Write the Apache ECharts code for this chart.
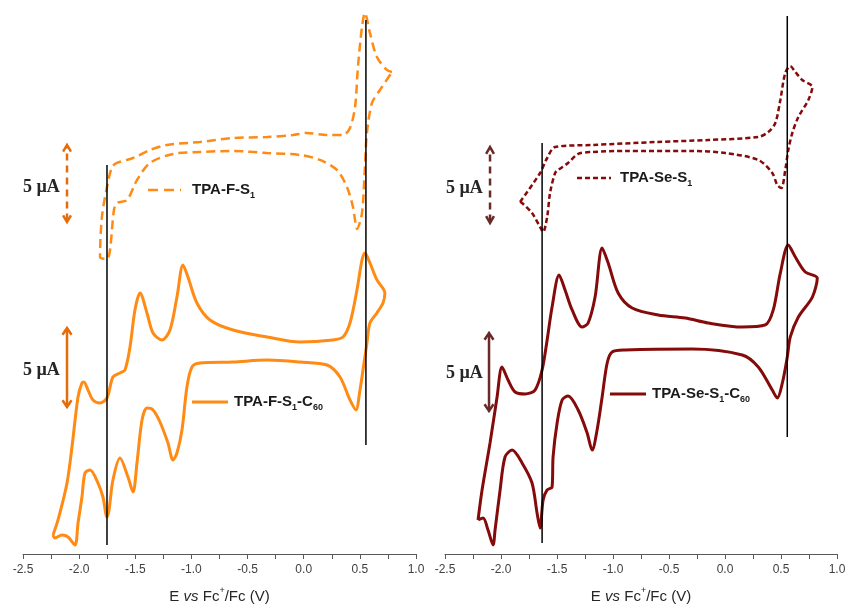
<!DOCTYPE html>
<html><head><meta charset="utf-8">
<script src="https://cdn.jsdelivr.net/npm/echarts@6/dist/echarts.min.js"></script>
<style>html,body{margin:0;padding:0;background:#fff}#c{width:846px;height:605px}</style>
</head><body><div id="c"></div>
<script>
// ---- data: [E (V vs Fc+/Fc), I (µA, arbitrary offset)] ----
const xTicks = [-2.5, -2.0, -1.5, -1.0, -0.5, 0.0, 0.5, 1.0];

const fS1 = [[0.786,32.13],[0.741,32.27],[0.652,33.13],[0.590,34.73],[0.545,36.07],[0.519,35.13],[0.483,32.47],[0.457,29.80],[0.412,28.40],[0.350,27.93],[0.207,27.93],[0.029,28.07],[-0.096,27.93],[-0.327,27.80],[-0.630,27.73],[-0.924,27.47],[-1.218,27.27],[-1.369,26.93],[-1.520,26.40],[-1.663,26.07],[-1.707,25.80],[-1.752,24.47],[-1.797,22.47],[-1.814,19.80],[-1.752,19.67],[-1.725,20.27],[-1.690,22.93],[-1.663,23.40],[-1.574,23.60],[-1.485,24.93],[-1.369,26.07],[-1.164,26.67],[-0.924,26.80],[-0.630,26.87],[-0.327,26.73],[-0.033,26.60],[0.145,26.27],[0.296,25.60],[0.385,24.47],[0.439,23.13],[0.457,22.27],[0.474,21.67],[0.519,22.73],[0.545,25.80],[0.563,28.07],[0.608,30.07],[0.679,30.93],[0.786,32.13]];

const fC60 = [[-2.233,1.27],[-2.188,2.27],[-2.108,4.73],[-2.064,7.13],[-2.010,10.47],[-1.975,11.40],[-1.957,11.47],[-1.921,10.93],[-1.877,10.27],[-1.814,10.07],[-1.752,10.40],[-1.699,11.80],[-1.636,12.07],[-1.592,12.27],[-1.547,13.80],[-1.503,16.27],[-1.458,17.40],[-1.396,16.07],[-1.342,14.73],[-1.262,14.27],[-1.191,14.93],[-1.129,17.13],[-1.075,19.27],[-1.031,18.47],[-0.951,16.73],[-0.835,15.60],[-0.630,14.93],[-0.327,14.47],[-0.033,14.13],[0.260,14.27],[0.350,14.47],[0.412,15.40],[0.474,17.60],[0.519,19.60],[0.545,20.07],[0.590,19.40],[0.652,18.27],[0.723,17.40],[0.706,16.73],[0.652,16.07],[0.590,15.40],[0.563,14.07],[0.528,12.27],[0.501,10.93],[0.465,9.60],[0.412,10.27],[0.323,11.80],[0.207,12.60],[-0.033,12.80],[-0.327,12.93],[-0.630,12.80],[-0.924,12.73],[-0.995,12.47],[-1.040,11.13],[-1.084,8.27],[-1.129,6.73],[-1.164,6.27],[-1.209,7.40],[-1.280,8.80],[-1.342,9.60],[-1.396,9.73],[-1.440,8.93],[-1.485,6.07],[-1.520,4.13],[-1.565,5.13],[-1.636,6.40],[-1.699,4.93],[-1.734,2.93],[-1.752,2.47],[-1.788,3.80],[-1.832,4.73],[-1.903,5.60],[-1.948,5.40],[-1.975,3.80],[-2.010,2.07],[-2.037,0.60],[-2.099,1.13],[-2.153,1.27],[-2.215,1.07],[-2.233,1.27]];

const seS1 = [[-1.830,23.47],[-1.651,25.40],[-1.588,26.40],[-1.517,27.13],[-1.186,27.27],[-0.597,27.47],[-0.150,27.60],[0.297,27.80],[0.386,28.13],[0.449,28.73],[0.494,30.27],[0.538,32.07],[0.583,32.53],[0.628,32.13],[0.690,31.60],[0.780,31.13],[0.744,30.27],[0.655,29.13],[0.601,28.07],[0.565,26.93],[0.538,25.60],[0.503,24.40],[0.467,24.60],[0.422,25.40],[0.297,26.27],[0.002,26.73],[-0.293,26.87],[-0.891,26.87],[-1.186,26.80],[-1.311,26.67],[-1.401,26.07],[-1.490,25.60],[-1.517,25.40],[-1.562,24.07],[-1.588,22.47],[-1.624,21.47],[-1.651,21.80],[-1.723,22.73],[-1.812,23.40],[-1.830,23.47]];

const seC60 = [[-2.205,2.27],[-2.169,4.27],[-2.098,7.40],[-2.035,10.47],[-1.991,12.47],[-1.937,11.60],[-1.874,10.80],[-1.785,10.67],[-1.696,10.93],[-1.633,12.27],[-1.588,14.27],[-1.544,16.47],[-1.481,18.60],[-1.428,17.60],[-1.365,16.27],[-1.276,15.13],[-1.222,15.40],[-1.160,17.13],[-1.097,20.40],[-1.043,19.40],[-0.954,17.40],[-0.829,16.40],[-0.597,15.93],[-0.355,15.73],[-0.150,15.40],[0.154,15.13],[0.360,15.27],[0.431,16.27],[0.494,18.73],[0.565,20.60],[0.628,19.80],[0.717,18.80],[0.824,18.40],[0.780,17.13],[0.655,15.80],[0.583,14.47],[0.556,13.13],[0.512,11.40],[0.467,10.40],[0.422,10.93],[0.297,12.47],[0.154,13.27],[-0.293,13.67],[-0.891,13.60],[-1.008,13.47],[-1.052,12.73],[-1.097,10.47],[-1.142,8.27],[-1.186,6.93],[-1.231,8.07],[-1.311,9.60],[-1.401,10.53],[-1.454,10.27],[-1.499,8.73],[-1.535,6.47],[-1.544,4.47],[-1.588,4.27],[-1.624,3.60],[-1.651,1.73],[-1.678,2.73],[-1.723,4.73],[-1.812,6.07],[-1.901,6.93],[-1.964,6.47],[-2.008,4.27],[-2.053,1.60],[-2.071,0.60],[-2.116,1.60],[-2.160,2.40],[-2.205,2.27]];

// reference lines: [E, I from, I to]
const refLinesF = [[-1.752, 0.6, 25.93], [0.554, 7.27, 35.6]];
const refLinesSe = [[-1.633, 0.73, 27.4], [0.556, 7.8, 35.87]];
// 5 µA scale bars: [E, I bottom, I top]
const barsF = [[-2.108, 22.13, 27.27], [-2.108, 9.8, 15.07]];
const barsSe = [[-2.098, 22.07, 27.13], [-2.107, 9.53, 14.73]];

// ---- styles ----
const ORANGE = '#FF8A14', ORANGE_DK = '#E46C0A';
const MAROON = '#850A0A', MAROON_DK = '#6A2A2A';
const SANS = '"Liberation Sans", Arial, sans-serif';
const SERIF = '"Liberation Serif", "Times New Roman", serif';
const Y_MAX = 550 / 15;

function xAxis(gi) {
  return {
    gridIndex: gi, type: 'value', min: xTicks[0], max: xTicks[xTicks.length - 1], interval: 0.5,
    axisLine: { show: true, onZero: false, lineStyle: { color: '#595959', width: 1 } },
    axisTick: { show: true, length: 5, lineStyle: { color: '#595959' } },
    minorTick: { show: true, splitNumber: 2, length: 5, lineStyle: { color: '#595959' } },
    splitLine: { show: false }, minorSplitLine: { show: false },
    axisLabel: { color: '#404040', fontSize: 12, fontFamily: SANS, margin: 10, formatter: v => v.toFixed(1) },
    name: 'E {i|vs} Fc{sup|+}/Fc (V)', nameLocation: 'middle', nameGap: 32,
    nameTextStyle: {
      color: '#262626', fontSize: 15, fontFamily: SANS,
      rich: {
        i: { fontStyle: 'italic', fontSize: 15, fontFamily: SANS, color: '#262626' },
        sup: { fontSize: 9, fontFamily: SANS, color: '#262626', verticalAlign: 'top', lineHeight: 22 }
      }
    }
  };
}
function yAxis(gi) { return { gridIndex: gi, type: 'value', min: 0, max: Y_MAX, show: false }; }

function curve(data, gi, color, width, dash) {
  return { type: 'line', xAxisIndex: gi, yAxisIndex: gi, data: data, smooth: 0.3, showSymbol: false, symbol: 'none',
    lineStyle: { color: color, width: width, type: dash || 'solid', cap: 'butt' }, silent: true, animation: false, z: 3 };
}
function refLine(r, gi) {
  return { type: 'line', xAxisIndex: gi, yAxisIndex: gi, data: [[r[0], r[1]], [r[0], r[2]]], symbol: 'none',
    lineStyle: { color: '#000', width: 1.5 }, silent: true, animation: false, z: 5 };
}
function bar(b, gi, color, dashed, dE) {
  const dI = 0.45, out = [];
  out.push({ type: 'line', xAxisIndex: gi, yAxisIndex: gi, data: [[b[0], b[1] + 0.1], [b[0], b[2] - 0.1]], symbol: 'none',
    lineStyle: { color: color, width: 2.5, type: dashed ? [7, 5] : 'solid' }, silent: true, animation: false, z: 4 });
  out.push({ type: 'line', xAxisIndex: gi, yAxisIndex: gi, data: [[b[0] - dE, b[2] - dI], [b[0], b[2]], [b[0] + dE, b[2] - dI]], symbol: 'none',
    lineStyle: { color: color, width: 2.5, join: 'miter' }, silent: true, animation: false, z: 4 });
  out.push({ type: 'line', xAxisIndex: gi, yAxisIndex: gi, data: [[b[0] - dE, b[1] + dI], [b[0], b[1]], [b[0] + dE, b[1] + dI]], symbol: 'none',
    lineStyle: { color: color, width: 2.5, join: 'miter' }, silent: true, animation: false, z: 4 });
  return out;
}

const series = [
  curve(fS1, 0, ORANGE, 2.5, [9, 5]),
  curve(fC60, 0, ORANGE, 3),
  curve(seS1, 1, MAROON, 2.5, [5, 3]),
  curve(seC60, 1, MAROON, 3),
  ...refLinesF.map(r => refLine(r, 0)),
  ...refLinesSe.map(r => refLine(r, 1)),
  ...bar(barsF[0], 0, ORANGE_DK, true, 0.035),
  ...bar(barsF[1], 0, ORANGE_DK, false, 0.04),
  ...bar(barsSe[0], 1, MAROON_DK, true, 0.035),
  ...bar(barsSe[1], 1, MAROON_DK, false, 0.04)
];

function label(x, y, text, color) {
  return { type: 'text', x: x, y: y, z: 10, style: {
    text: text, fontSize: 15, fontWeight: 'bold', fontFamily: SANS, fill: '#1a1a1a', verticalAlign: 'middle', lineHeight: 20,
    rich: { sub: { fontSize: 9, fontWeight: 'bold', fontFamily: SANS, fill: '#1a1a1a', verticalAlign: 'bottom', lineHeight: 8 } } } };
}
function uA(x, y) {
  return { type: 'text', x: x, y: y, z: 10, style: { text: '5 µA', fontSize: 18, fontWeight: 'bold', fontFamily: SERIF, fill: '#262626', verticalAlign: 'middle' } };
}
function sample(x1, x2, y, color, dash) {
  return { type: 'line', z: 10, shape: { x1: x1, y1: y, x2: x2, y2: y }, style: { stroke: color, lineWidth: dash ? 2.5 : 3, lineDash: dash || null } };
}

const graphic = [
  uA(23, 187), uA(23, 370), uA(446, 188), uA(446, 373),
  sample(148, 181, 190, ORANGE, [10, 6]), label(192, 190, 'TPA-F-S{sub|1}'),
  sample(192, 228, 402, ORANGE), label(234, 402, 'TPA-F-S{sub|1}-C{sub|60}'),
  sample(577, 611, 178, MAROON, [5, 3]), label(620, 178, 'TPA-Se-S{sub|1}'),
  sample(610, 646, 394, MAROON), label(652, 394, 'TPA-Se-S{sub|1}-C{sub|60}')
];

const chart = echarts.init(document.getElementById('c'), null, { renderer: 'canvas' });
chart.setOption({
  animation: false,
  backgroundColor: '#fff',
  grid: [
    { left: 23, width: 393, top: 4, height: 550, outerBoundsMode: 'none', containLabel: false },
    { left: 445, width: 392, top: 4, height: 550, outerBoundsMode: 'none', containLabel: false }
  ],
  xAxis: [xAxis(0), xAxis(1)],
  yAxis: [yAxis(0), yAxis(1)],
  series: series,
  graphic: graphic
});
</script>
</body></html>
